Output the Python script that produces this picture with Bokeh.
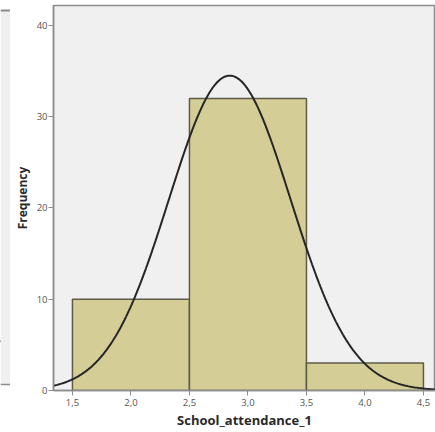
import numpy as np
from bokeh.plotting import figure
from bokeh.layouts import row
from bokeh.models import ColumnDataSource, FixedTicker, CustomJSTickFormatter, Range1d, Span, BoxAnnotation
from bokeh.embed import file_html
from bokeh.resources import INLINE

# Histogram data (bin edges and frequencies)
bin_left = [1.5, 2.5, 3.5]
bin_right = [2.5, 3.5, 4.5]
frequency = [10, 32, 3]
bin_mid = [2.0, 3.0, 4.0]

x_ticks = [1.5, 2.0, 2.5, 3.0, 3.5, 4.0, 4.5]
y_ticks = [0, 10, 20, 30, 40]

# tail of the neighbouring (cropped) chart's curve, visible at the left edge
neighbor_curve_x = [0.0, 1.0]
neighbor_curve_y = [5.5, 4.2]
neighbor_frame_bottom = 0.66
neighbor_frame_top = 41.64

# Normal curve fitted to the data (SPSS style)
n = sum(frequency)
mean = sum(m * f for m, f in zip(bin_mid, frequency)) / n
var = sum(f * (m - mean) ** 2 for m, f in zip(bin_mid, frequency)) / (n - 1)
sd = var ** 0.5
bw = 1.0
xs = np.linspace(1.2, 4.8, 300)
ys = n * bw / (sd * np.sqrt(2 * np.pi)) * np.exp(-0.5 * ((xs - mean) / sd) ** 2)

FRAME = "#8C8C8C"
YMAX = 42.19

# --- sliver of the neighbouring chart ---
s = figure(width=10, height=432, output_backend="svg", toolbar_location=None,
           x_range=Range1d(0, 1.0), y_range=Range1d(0, YMAX),
           min_border_left=0, min_border_right=0, min_border_top=5, min_border_bottom=42)
s.axis.visible = False
s.grid.visible = False
s.outline_line_color = None
s.background_fill_color = "white"
s.border_fill_color = "white"
s.add_layout(BoxAnnotation(bottom=neighbor_frame_bottom, top=neighbor_frame_top,
                           fill_color="#F0F0F0", fill_alpha=1, line_color=None))
s.add_layout(Span(location=neighbor_frame_top, dimension="width", line_color=FRAME, line_width=2))
s.add_layout(Span(location=neighbor_frame_bottom, dimension="width", line_color=FRAME, line_width=1.5))
s.line(neighbor_curve_x, neighbor_curve_y, line_color="#262626", line_width=2)

# --- main histogram ---
p = figure(width=425, height=432, output_backend="svg", toolbar_location=None,
           x_range=Range1d(1.338, 4.603), y_range=Range1d(0, YMAX),
           min_border_left=43, min_border_right=0, min_border_top=5, min_border_bottom=42)

p.background_fill_color = "#F0F0F0"
p.border_fill_color = "white"
p.outline_line_color = FRAME
p.outline_line_width = 1.5
p.grid.visible = False

src = ColumnDataSource(dict(left=bin_left, right=bin_right, top=frequency))
p.quad(left="left", right="right", bottom=0, top="top", source=src,
       fill_color="#D4CE96", line_color="#5E5C48", line_width=1.5)

p.line(xs, ys, line_color="#262626", line_width=2)

p.xaxis.ticker = FixedTicker(ticks=x_ticks)
p.xaxis.formatter = CustomJSTickFormatter(code="return tick.toFixed(1).replace('.', ',');")
p.yaxis.ticker = FixedTicker(ticks=y_ticks)

for ax in (p.xaxis[0], p.yaxis[0]):
    ax.axis_line_color = FRAME
    ax.axis_line_width = 1.5
    ax.major_tick_line_color = FRAME
    ax.major_tick_line_width = 1
    ax.major_tick_in = 0
    ax.major_tick_out = 5
    ax.minor_tick_line_color = None
    ax.major_label_text_font = "Open Sans"
    ax.major_label_text_font_size = "9.5px"
    ax.major_label_text_color = "#555555"
    ax.axis_label_text_font = "Open Sans"
    ax.axis_label_text_font_style = "bold"
    ax.axis_label_text_color = "#2A2A2A"

p.xaxis.axis_label = "School_attendance_1"
p.xaxis.axis_label_text_font_size = "13px"
p.xaxis.axis_label_standoff = 2
p.xaxis.major_label_standoff = 3
p.yaxis.axis_label = "Frequency"
p.yaxis.axis_label_text_font_size = "12px"
p.yaxis.axis_label_standoff = 3
p.yaxis.major_label_standoff = 1

layout = row(s, p, spacing=0)
open("out.html", "w").write(file_html(layout, INLINE))
